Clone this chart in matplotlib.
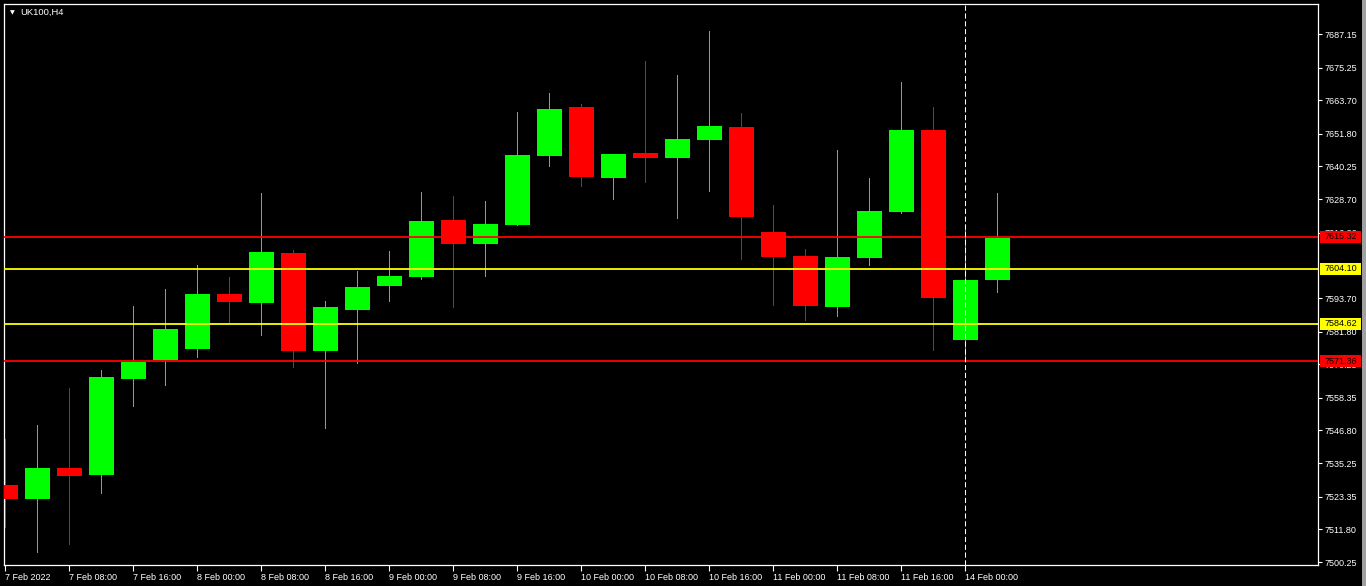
import matplotlib
matplotlib.use("Agg")
import matplotlib.pyplot as plt
import numpy as np
from matplotlib.patches import Rectangle

# UK100 H4 candles, 7 Feb 2022 00:00 .. 14 Feb 2022 04:00
opens = [7527.51, 7522.55, 7533.52, 7531.05, 7565.03, 7571.75, 7575.65, 7595.12,
         7591.93, 7609.63, 7574.94, 7589.45, 7597.95, 7601.13, 7621.31, 7612.82,
         7619.54, 7643.97, 7661.31, 7636.18, 7645.03, 7643.26, 7649.63, 7654.23,
         7617.06, 7608.57, 7590.51, 7607.86, 7624.14, 7653.17, 7578.83, 7600.07]
highs = [7543.79, 7548.75, 7561.84, 7568.21, 7590.87, 7596.89, 7605.38, 7601.13,
         7630.87, 7610.69, 7592.64, 7603.26, 7610.34, 7631.22, 7629.81, 7628.04,
         7659.54, 7666.27, 7662.37, 7644.67, 7677.59, 7672.64, 7688.21, 7659.19,
         7626.62, 7611.05, 7646.09, 7636.18, 7670.16, 7661.31, 7619.19, 7630.87]
lows = [7512.64, 7503.79, 7506.62, 7524.67, 7555.47, 7562.90, 7572.82, 7585.21,
        7580.60, 7569.28, 7547.68, 7570.69, 7592.64, 7600.43, 7590.51, 7601.49,
        7619.54, 7640.43, 7633.35, 7628.74, 7634.76, 7622.02, 7631.58, 7607.51,
        7591.22, 7585.91, 7587.33, 7605.38, 7623.79, 7575.29, 7571.75, 7595.82]
closes = [7522.55, 7533.52, 7530.69, 7565.74, 7571.05, 7582.73, 7595.12, 7592.28,
          7609.98, 7574.94, 7590.51, 7597.59, 7601.49, 7620.96, 7612.82, 7619.90,
          7644.32, 7660.60, 7636.53, 7644.67, 7643.26, 7649.98, 7654.59, 7622.37,
          7608.21, 7590.87, 7608.21, 7624.50, 7653.17, 7593.70, 7600.07, 7614.94]

# horizontal levels drawn on the chart
level_values = [7615.32, 7604.10, 7584.62, 7571.36]
level_colors = ['#ff0000', '#ffff00', '#ffff00', '#ff0000']

# 7605.25 sits under the 7604.10 label box, so it has no visible label
price_ticks = [7687.15, 7675.25, 7663.70, 7651.80, 7640.25, 7628.70, 7616.80,
               7593.70, 7581.80, 7570.25, 7558.35, 7546.80, 7535.25, 7523.35, 7511.80, 7500.25]
time_labels = ['7 Feb 2022', '7 Feb 08:00', '7 Feb 16:00', '8 Feb 00:00', '8 Feb 08:00',
               '8 Feb 16:00', '9 Feb 00:00', '9 Feb 08:00', '9 Feb 16:00', '10 Feb 00:00',
               '10 Feb 08:00', '10 Feb 16:00', '11 Feb 00:00', '11 Feb 08:00', '11 Feb 16:00',
               '14 Feb 00:00']
separator_bar = 30  # 14 Feb 00:00

plt.rcParams['font.family'] = ['Liberation Sans', 'DejaVu Sans']

W, H = 1366, 586
fig = plt.figure(figsize=(W / 100, H / 100), dpi=100, facecolor='black')
ax_left, ax_right, ax_top, ax_bottom = 4, 1318, 4, 565
ax = fig.add_axes([ax_left / W, (H - ax_bottom) / H, (ax_right - ax_left) / W,
                   (ax_bottom - ax_top) / H])
ax.set_facecolor('black')

o = np.array(opens)
h = np.array(highs)
l = np.array(lows)
c = np.array(closes)
x = np.arange(len(o))
up = c >= o
colors = np.where(up, '#00ff00', '#ff0000')

# wicks then bodies (crisp 1px wicks like the terminal)
ax.vlines(x, l, h, colors=colors, linewidth=0.6, antialiased=False, zorder=2)
ax.bar(x, np.abs(c - o), bottom=np.minimum(o, c), width=0.78, color=colors,
       linewidth=0, zorder=3)

ymin, ymax = 7499.19, 7697.77
px_per_price = (ax_bottom - ax_top) / (ymax - ymin)
box_half = 6 / px_per_price
box_x0 = (1320 - ax_left) / (ax_right - ax_left)
box_w = 41 / (ax_right - ax_left)
for val, col in zip(level_values, level_colors):
    ax.axhline(val, color=col, linewidth=1.3, zorder=4)
    ax.add_patch(Rectangle((box_x0, val - box_half), box_w, 2 * box_half,
                           transform=ax.get_yaxis_transform(), facecolor=col,
                           edgecolor='none', clip_on=False, zorder=6))
    ax.text(box_x0 + box_w / 2, val, f'{val:.2f}', transform=ax.get_yaxis_transform(),
            ha='center', va='center', fontsize=6.5, color='black', zorder=7, clip_on=False)

ax.axvline(separator_bar, color='white', linewidth=0.75, linestyle=(0, (5, 2.5)), zorder=5)

ax.set_xlim(-0.04, 41.02)
ax.set_ylim(ymin, ymax)

ax.yaxis.tick_right()
ax.set_yticks(price_ticks)
ax.set_yticklabels([f'{p:.2f}' for p in price_ticks])
ax.tick_params(axis='y', colors='white', length=3, width=0.8, pad=1.5, labelsize=6.5)

ax.set_xticks(np.arange(0, 2 * len(time_labels), 2))
ax.set_xticklabels(time_labels, ha='left')
ax.tick_params(axis='x', colors='white', length=4, width=0.8, pad=1.5, labelsize=6.5)

for sp in ax.spines.values():
    sp.set_color('white')
    sp.set_linewidth(0.9)

# title with the little drop-down arrow
fig.text(12 / W, 1 - 12.5 / H, '\u25bc', color='white', fontsize=4.5,
         ha='center', va='center', family='DejaVu Sans')
fig.text(20 / W, 1 - 12.5 / H, 'UK100,H4', color='white', fontsize=6.8,
         ha='left', va='center')

# grey window border on the right edge
fig.add_artist(Rectangle((1362 / W, 0), 4 / W, 1, transform=fig.transFigure,
                         facecolor='#a0a0a0', edgecolor='none'))

fig.savefig('out.png', dpi=100, facecolor='black')
